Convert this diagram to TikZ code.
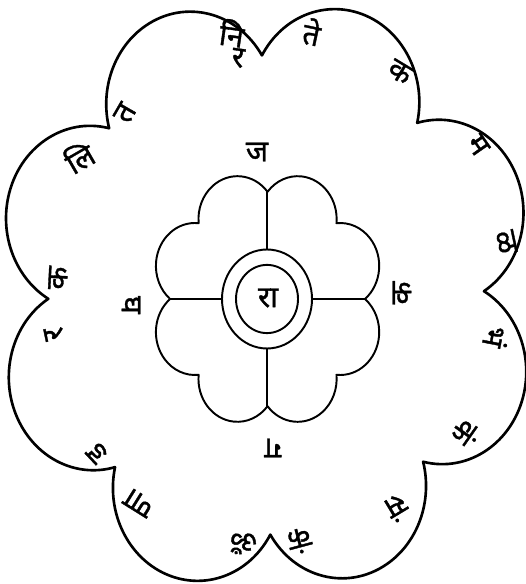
\documentclass[tikz,border=0pt]{standalone}
\usepackage{fontspec}
\newfontfamily\deva[Script=Devanagari,FakeBold=1.2]{Noto Sans}
\tikzset{
  rim/.style={line width=1.5pt, line join=round},
  petal/.style={line width=1.1pt, line join=round},
  letter/.style={font=\deva\fontsize{17}{20}\selectfont, inner sep=0pt}
}
\begin{document}
\begin{tikzpicture}[x=0.02cm,y=0.02cm]
  \useasboundingbox (0,0) rectangle (526,584);

  % outer flower, eight petals
  \begin{scope}[shift={(266,289)},rotate=1,yscale=1.1]
    \draw[rim] (0:218) \foreach \a in {22.5,67.5,...,337.5}
      {arc[start angle=\a-81.5, end angle=\a+81.5, radius=84.3]} -- cycle;
  \end{scope}

  % inner flower with ring
  \begin{scope}[shift={(267,285)},yscale=1.1]
    \draw[petal] (0:98) \foreach \a in {22.5,67.5,...,337.5}
      {arc[start angle=\a-73, end angle=\a+73, radius=39]} -- cycle;
    \draw[petal] (0,0) circle[radius=45];
    \draw[petal] (0,0) circle[radius=31];
    \foreach \a in {0,90,180,270}
      \draw[petal] (\a:45) -- (\a:98);
  \end{scope}

  % centre
  \node[letter] (ra) at (268,286) {रा};

  % letters of the inner ring
  \foreach \x/\y/\r/\t [count=\i] in {
    257/432/0/ज, 402/291/90/क, 273/136/180/ग, 131/279/-90/घ}
    \node[letter, rotate=\r] (in\i) at (\x,\y) {\t};

  % letters along the petals
  \foreach \x/\y/\r/\t [count=\i] in {
    125/471/60/त, 232/551/-8/नि, 238/526/-8/र, 312/552/-12/ते,
    400/512/-31/क, 478/439/-55/म, 506/342/-78/ळ, 496/247/-101/भं,
    466/151/-125/कं, 397/76/-149/सं, 300/43/-165/कं, 243/41/165/ॐ,
    139/81/148/णा, 97/131/133/ड, 54/250/102/र, 58/306/87/क,
    79/427/30/लि}
    \node[letter, rotate=\r] (out\i) at (\x,\y) {\t};
\end{tikzpicture}
\end{document}
